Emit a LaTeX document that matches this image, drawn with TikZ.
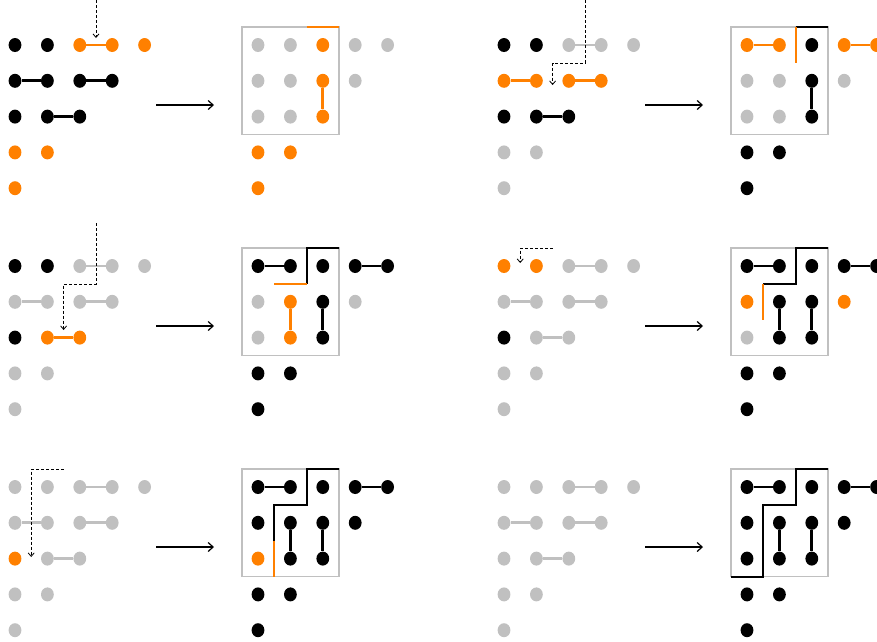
\documentclass[tikz,border=0pt]{standalone}
\usetikzlibrary{shapes.geometric,arrows.meta}
\definecolor{kk}{HTML}{000000}
\definecolor{gg}{HTML}{C0C0C0}
\definecolor{oo}{HTML}{FF8000}
\tikzset{
 dot/.style={ellipse,minimum width=12.8pt,minimum height=14pt,inner sep=0pt,draw=none},
 edge/.style={line width=2.7pt},
 boxline/.style={draw=gg,line width=1.6pt},
 cut/.style={line width=2pt},
 bigarrow/.style={line width=1.2pt,-{Straight Barb[length=5pt,width=9pt]}},
 dasharrow/.style={line width=0.8pt,dash pattern=on 3pt off 2pt,-{Straight Barb[length=3.5pt,width=6pt]}},
}
\newcommand\dotgrid[3]{%
 \foreach \k [count=\i from 0] in {#3}{%
   \pgfmathtruncatemacro\rr{(\i>4)+(\i>8)+(\i>11)+(\i>13)}%
   \pgfmathtruncatemacro\cc{\i-{0,5,9,12,14}[\rr]}%
   \node[dot,fill=\k] (#1-\rr-\cc) at ({#2+32.4*\cc},{45+35.8*\rr}) {};
 }}
\newcommand\leftedges[5]{%
 \draw[edge,#2] (#1-0-2) -- (#1-0-3);
 \draw[edge,#3] (#1-1-0) -- (#1-1-1);
 \draw[edge,#4] (#1-1-2) -- (#1-1-3);
 \draw[edge,#5] (#1-2-1) -- (#1-2-2);}
\newcommand\rbox{\draw[boxline] (241.8,27.1) rectangle (339,134.5);}
\newcommand\mainarrow[1]{%
 \coordinate (#1A0) at (156,105); \coordinate (#1A1) at (214,105);
 \draw[bigarrow] (#1A0) -- (#1A1);}
\begin{document}
\begin{tikzpicture}[x=1pt,y=-1pt]
\useasboundingbox (0,0) rectangle (877,641);
% ---------- panel 1
\begin{scope}
\dotgrid{aL}{15}{kk,kk,oo,oo,oo,kk,kk,kk,kk,kk,kk,kk,oo,oo,oo}
\leftedges{aL}{oo}{kk}{kk}{kk}
\coordinate (aD0) at (96,0); \coordinate (aD1) at (96,38);
\draw[dasharrow] (aD0) -- (aD1);
\mainarrow{a}
\rbox
\dotgrid{aR}{258}{gg,gg,oo,gg,gg,gg,gg,oo,gg,gg,gg,oo,oo,oo,oo}
\draw[edge,oo] (aR-1-2) -- (aR-2-2);
\draw[cut,oo] (306.6,27.1) -- (339,27.1);
\end{scope}
% ---------- panel 2
\begin{scope}[shift={(489,0)}]
\dotgrid{bL}{15}{kk,kk,gg,gg,gg,oo,oo,oo,oo,kk,kk,kk,gg,gg,gg}
\leftedges{bL}{gg}{oo}{oo}{kk}
\coordinate (bD0) at (96,0); \coordinate (bD1) at (63.6,85);
\draw[dasharrow] (bD0) -- (96,62.9) -- (63.6,62.9) -- (bD1);
\mainarrow{b}
\rbox
\dotgrid{bR}{258}{oo,oo,kk,oo,oo,gg,gg,kk,gg,gg,gg,kk,kk,kk,kk}
\draw[edge,oo] (bR-0-0) -- (bR-0-1);
\draw[edge,oo] (bR-0-3) -- (bR-0-4);
\draw[edge,kk] (bR-1-2) -- (bR-2-2);
\draw[cut,kk] (306.6,27.1) -- (339,27.1);
\draw[cut,oo] (306.6,27.1) -- (306.6,62.9);
\end{scope}
% ---------- panel 3
\begin{scope}[shift={(0,221)}]
\dotgrid{cL}{15}{kk,kk,gg,gg,gg,gg,gg,gg,gg,kk,oo,oo,gg,gg,gg}
\leftedges{cL}{gg}{gg}{gg}{oo}
\coordinate (cD0) at (96,2); \coordinate (cD1) at (63.6,109);
\draw[dasharrow] (cD0) -- (96,62.9) -- (63.6,62.9) -- (cD1);
\mainarrow{c}
\rbox
\dotgrid{cR}{258}{kk,kk,kk,kk,kk,gg,oo,kk,gg,gg,oo,kk,kk,kk,kk}
\draw[edge,kk] (cR-0-0) -- (cR-0-1);
\draw[edge,kk] (cR-0-3) -- (cR-0-4);
\draw[edge,oo] (cR-1-1) -- (cR-2-1);
\draw[edge,kk] (cR-1-2) -- (cR-2-2);
\draw[cut,kk] (339,27.1) -- (306.6,27.1) -- (306.6,62.9);
\draw[cut,oo] (306.6,62.9) -- (274.2,62.9);
\end{scope}
% ---------- panel 4
\begin{scope}[shift={(489,221)}]
\dotgrid{dL}{15}{oo,oo,gg,gg,gg,gg,gg,gg,gg,kk,gg,gg,gg,gg,gg}
\leftedges{dL}{gg}{gg}{gg}{gg}
\coordinate (dD0) at (63.6,27.1); \coordinate (dD1) at (31.2,42);
\draw[dasharrow] (dD0) -- (31.2,27.1) -- (dD1);
\mainarrow{d}
\rbox
\dotgrid{dR}{258}{kk,kk,kk,kk,kk,oo,kk,kk,oo,gg,kk,kk,kk,kk,kk}
\draw[edge,kk] (dR-0-0) -- (dR-0-1);
\draw[edge,kk] (dR-0-3) -- (dR-0-4);
\draw[edge,kk] (dR-1-1) -- (dR-2-1);
\draw[edge,kk] (dR-1-2) -- (dR-2-2);
\draw[cut,kk] (339,27.1) -- (306.6,27.1) -- (306.6,62.9) -- (274.2,62.9);
\draw[cut,oo] (274.2,62.9) -- (274.2,98.7);
\end{scope}
% ---------- panel 5
\begin{scope}[shift={(0,442)}]
\dotgrid{eL}{15}{gg,gg,gg,gg,gg,gg,gg,gg,gg,oo,gg,gg,gg,gg,gg}
\leftedges{eL}{gg}{gg}{gg}{gg}
\coordinate (eD0) at (63.6,27.1); \coordinate (eD1) at (31.2,115);
\draw[dasharrow] (eD0) -- (31.2,27.1) -- (eD1);
\mainarrow{e}
\rbox
\dotgrid{eR}{258}{kk,kk,kk,kk,kk,kk,kk,kk,kk,oo,kk,kk,kk,kk,kk}
\draw[edge,kk] (eR-0-0) -- (eR-0-1);
\draw[edge,kk] (eR-0-3) -- (eR-0-4);
\draw[edge,kk] (eR-1-1) -- (eR-2-1);
\draw[edge,kk] (eR-1-2) -- (eR-2-2);
\draw[cut,kk] (339,27.1) -- (306.6,27.1) -- (306.6,62.9) -- (274.2,62.9) -- (274.2,98.7);
\draw[cut,oo] (274.2,98.7) -- (274.2,134.5);
\end{scope}
% ---------- panel 6
\begin{scope}[shift={(489,442)}]
\dotgrid{fL}{15}{gg,gg,gg,gg,gg,gg,gg,gg,gg,gg,gg,gg,gg,gg,gg}
\leftedges{fL}{gg}{gg}{gg}{gg}
\mainarrow{f}
\rbox
\dotgrid{fR}{258}{kk,kk,kk,kk,kk,kk,kk,kk,kk,kk,kk,kk,kk,kk,kk}
\draw[edge,kk] (fR-0-0) -- (fR-0-1);
\draw[edge,kk] (fR-0-3) -- (fR-0-4);
\draw[edge,kk] (fR-1-1) -- (fR-2-1);
\draw[edge,kk] (fR-1-2) -- (fR-2-2);
\draw[cut,kk] (339,27.1) -- (306.6,27.1) -- (306.6,62.9) -- (274.2,62.9) -- (274.2,134.5) -- (241.8,134.5);
\end{scope}
\end{tikzpicture}
\end{document}
